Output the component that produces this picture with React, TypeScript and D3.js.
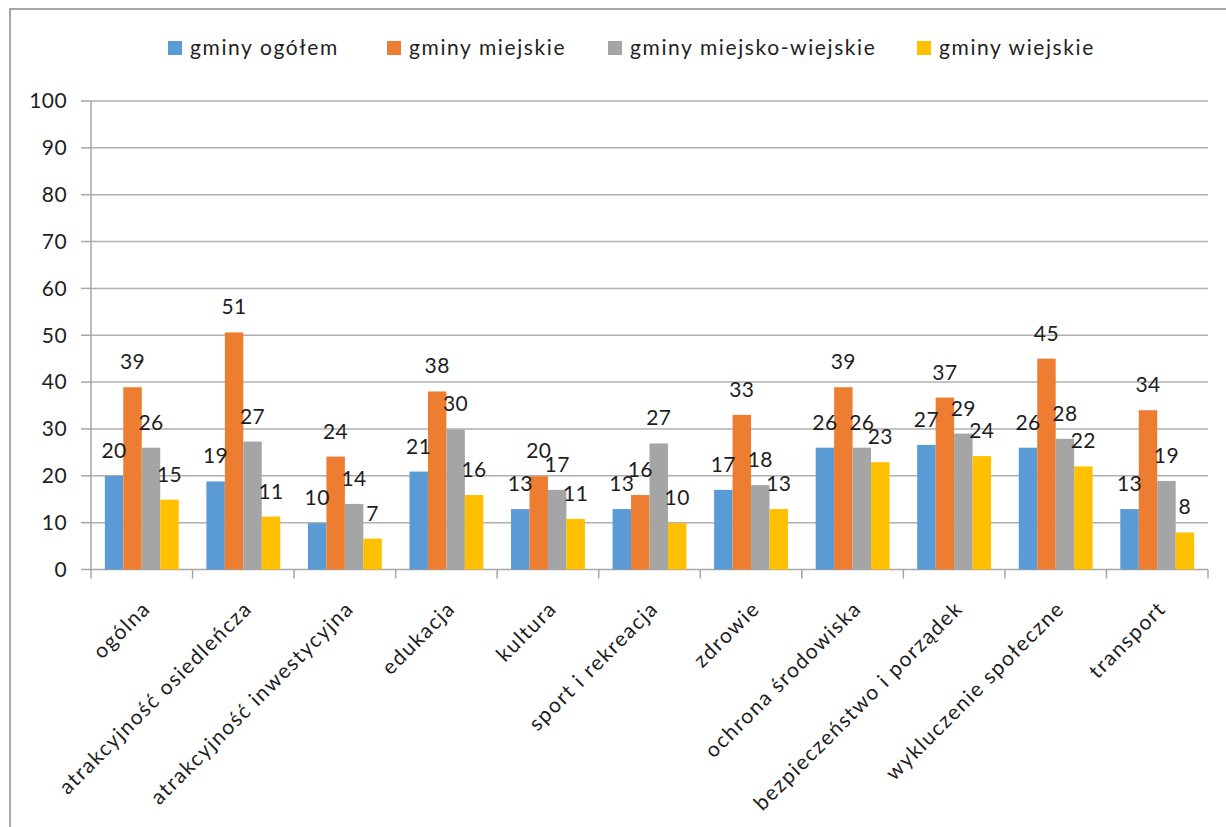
import React from "react";
import * as d3 from "d3";

const categories = [
  "ogólna",
  "atrakcyjność osiedleńcza",
  "atrakcyjność inwestycyjna",
  "edukacja",
  "kultura",
  "sport i rekreacja",
  "zdrowie",
  "ochrona środowiska",
  "bezpieczeństwo i porządek",
  "wykluczenie społeczne",
  "transport",
];

const seriesNames = ["gminy ogółem", "gminy miejskie", "gminy miejsko-wiejskie", "gminy wiejskie"];

const gminyOgolem = [20, 18.8, 9.9, 20.9, 12.9, 12.9, 17, 26, 26.6, 26, 12.9];
const gminyMiejskie = [38.9, 50.6, 24.1, 38, 19.9, 15.9, 33, 38.9, 36.7, 45, 34];
const gminyMiejskoWiejskie = [26, 27.3, 14, 29.9, 17, 26.9, 18, 26, 29, 27.9, 18.9];
const gminyWiejskie = [14.9, 11.3, 6.6, 15.9, 10.8, 9.9, 12.9, 22.9, 24.2, 22, 7.9];

const seriesValues = [gminyOgolem, gminyMiejskie, gminyMiejskoWiejskie, gminyWiejskie];
const colors = ["#5b9bd5", "#ed7d31", "#a5a5a5", "#ffc000"];
const yTicks = [0, 10, 20, 30, 40, 50, 60, 70, 80, 90, 100];

const W = 1226;
const H = 827;
const FONT = "Lato, 'Open Sans', sans-serif";

export default function App() {
  const left = 91;
  const right = 1208;
  const top = 101;
  const bottom = 569.5;

  const x0 = d3.scaleBand<string>().domain(categories).range([left, right]).paddingInner(0).paddingOuter(0);
  const x1 = d3
    .scaleBand<string>()
    .domain(seriesNames)
    .range([0, x0.bandwidth()])
    .paddingInner(0)
    .paddingOuter(0.75);
  const y = d3.scaleLinear().domain([0, 100]).range([bottom, top]);

  const gridColor = "#b0b0b0";
  const axisColor = "#a6a6a6";
  const textColor = "#1e1e1e";

  const boundaries = categories.map((c) => x0(c) as number).concat([right]);

  const legendX = [168, 387, 608, 917];

  return (
    <svg
      width={W}
      height={H}
      style={{ position: "absolute", left: 0, top: 0, background: "#fff" }}
      fontFamily={FONT}
    >
      <rect x={0} y={0} width={W} height={H} fill="#fff" />
      <rect x={10} y={9} width={W + 40} height={H + 40} fill="none" stroke="#8a8a8a" strokeWidth={1.5} />

      {/* legend */}
      {seriesNames.map((s, i) => (
        <g key={s}>
          <rect x={legendX[i]} y={41} width={14} height={14} fill={colors[i]} />
          <text x={legendX[i] + 22} y={55} fontSize={21} letterSpacing={1.6} fill={textColor}>
            {s}
          </text>
        </g>
      ))}

      {/* gridlines */}
      {yTicks.map((t) => (
        <line
          key={"g" + t}
          x1={left}
          x2={right}
          y1={y(t)}
          y2={y(t)}
          stroke={t === 0 ? axisColor : gridColor}
          strokeWidth={1.5}
        />
      ))}
      {/* y axis */}
      <line x1={left} x2={left} y1={top} y2={bottom} stroke={axisColor} strokeWidth={1.5} />
      {yTicks.map((t) => (
        <g key={"yt" + t}>
          <line x1={left - 10} x2={left} y1={y(t)} y2={y(t)} stroke={axisColor} strokeWidth={1.5} />
          <text x={67} y={y(t)} dy="0.35em" textAnchor="end" fontSize={21} letterSpacing={0.4} fill={textColor}>
            {t}
          </text>
        </g>
      ))}
      {/* x ticks */}
      {boundaries.map((b, i) => (
        <line key={"xt" + i} x1={b} x2={b} y1={bottom} y2={bottom + 9} stroke={axisColor} strokeWidth={1.5} />
      ))}

      {/* bars */}
      {categories.map((c, ci) => (
        <g key={c} transform={`translate(${x0(c)},0)`}>
          {seriesNames.map((s, si) => {
            const v = seriesValues[si][ci];
            const bx = x1(s) as number;
            return (
              <rect key={s} x={bx} y={y(v)} width={x1.bandwidth()} height={bottom - y(v)} fill={colors[si]} />
            );
          })}
        </g>
      ))}
      {/* data labels */}
      {categories.map((c, ci) => (
        <g key={"l" + c} transform={`translate(${x0(c)},0)`}>
          {seriesNames.map((s, si) => {
            const v = seriesValues[si][ci];
            const bx = (x1(s) as number) + x1.bandwidth() / 2;
            return (
              <text key={s} x={bx} y={y(v) - 18} textAnchor="middle" fontSize={21} letterSpacing={0.4} fill={textColor}>
                {Math.round(v)}
              </text>
            );
          })}
        </g>
      ))}

      {/* category labels */}
      {categories.map((c) => {
        const cx = (x0(c) as number) + x0.bandwidth() / 2;
        return (
          <text
            key={"c" + c}
            transform={`translate(${cx + 10},610) rotate(-45)`}
            textAnchor="end"
            fontSize={21}
            letterSpacing={1.5}
            fill={textColor}
          >
            {c}
          </text>
        );
      })}
    </svg>
  );
}
